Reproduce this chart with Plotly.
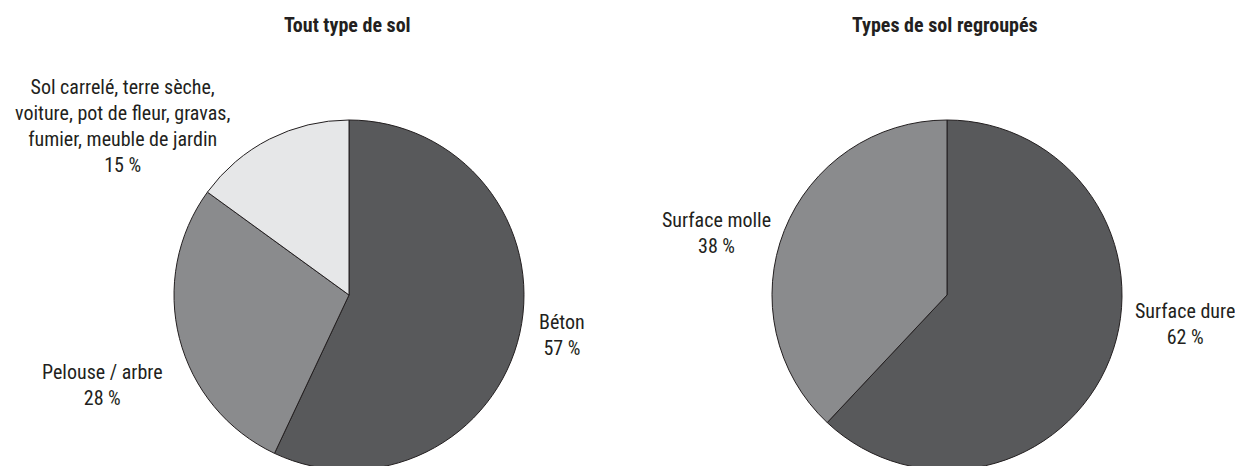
import plotly.graph_objects as go

# Data
left_labels = ["Béton", "Pelouse / arbre", "Sol carrelé, terre sèche,<br>voiture, pot de fleur, gravas,<br>fumier, meuble de jardin"]
left_values = [57, 28, 15]
right_labels = ["Surface dure", "Surface molle"]
right_values = [62, 38]
titles = ["Tout type de sol", "Types de sol regroupés"]

OFF = 8  # page body margin
W, H = 1243, 470
TXT = "#231f20"
FONT = "Roboto Condensed, Liberation Sans, sans-serif"

def X(sx):
    return (sx - OFF) / W

def Y(sy):
    return 1 - (sy - OFF) / H

def dom(cx, cy, r):
    return dict(x=[X(cx - r), X(cx + r)], y=[max(0, Y(cy + r)), Y(cy - r)])

fig = go.Figure()
fig.add_trace(go.Pie(
    labels=left_labels, values=left_values, sort=False, direction="clockwise", rotation=0,
    marker=dict(colors=["#58595b", "#8a8b8d", "#e6e7e8"], line=dict(color=TXT, width=1)),
    textinfo="none", hoverinfo="label+percent", showlegend=False,
    domain=dom(349, 295, 175),
))
fig.add_trace(go.Pie(
    labels=right_labels, values=right_values, sort=False, direction="clockwise", rotation=0,
    marker=dict(colors=["#58595b", "#8a8b8d"], line=dict(color=TXT, width=1)),
    textinfo="none", hoverinfo="label+percent", showlegend=False,
    domain=dom(947, 295, 175),
))

ann = []
for t, cx in zip(titles, [347, 945]):
    ann.append(dict(text="<b>%s</b>" % t, x=X(cx), y=Y(25), xref="paper", yref="paper",
                    xanchor="center", yanchor="middle", showarrow=False,
                    font=dict(size=20, family=FONT, color=TXT)))

def lab(label, val, cx, cy):
    return dict(text="%s<br>%d %%" % (label, val), x=X(cx), y=Y(cy), xref="paper", yref="paper",
                xanchor="center", yanchor="middle", showarrow=False, align="center",
                font=dict(size=20, family=FONT, color=TXT))

ann.append(lab(left_labels[0], left_values[0], 562, 335))
ann.append(lab(left_labels[1], left_values[1], 103, 385))
ann.append(lab(left_labels[2], left_values[2], 122, 126))
ann.append(lab(right_labels[0], right_values[0], 1185, 324))
ann.append(lab(right_labels[1], right_values[1], 716, 233))

fig.update_layout(width=W, height=H, margin=dict(l=0, r=0, t=0, b=0),
                  paper_bgcolor="white", plot_bgcolor="white", annotations=ann)

fig.write_html("out.html")
